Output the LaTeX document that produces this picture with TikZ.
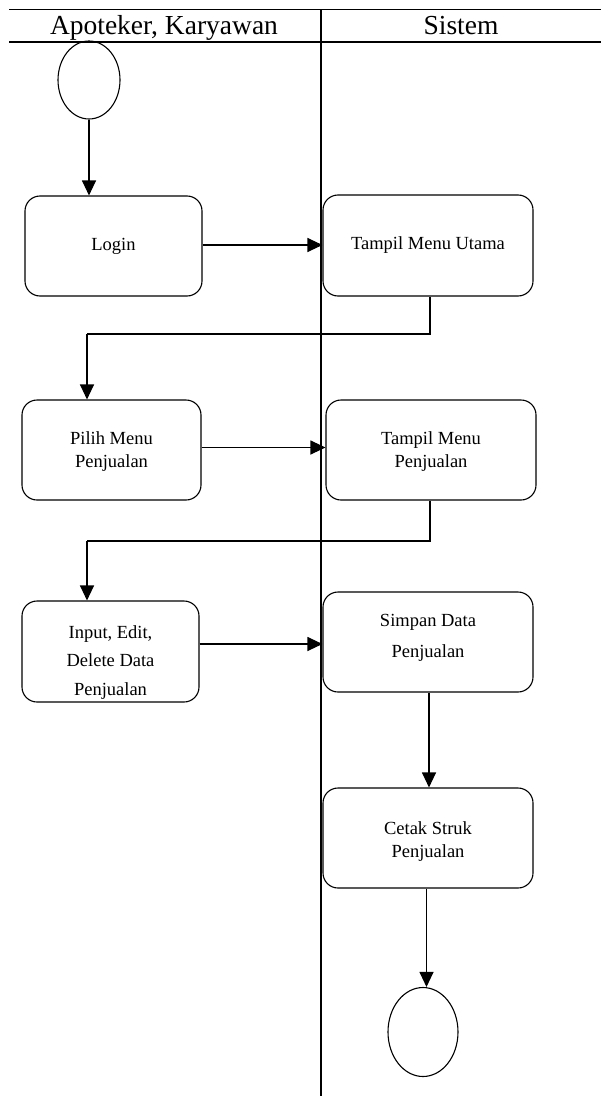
\documentclass[tikz,border=0pt]{standalone}
\usepackage{fontspec}
\setmainfont{Liberation Serif}
\usetikzlibrary{arrows.meta,shapes.geometric}
\begin{document}
\begin{tikzpicture}[x=1pt,y=-1pt,
  line width=1.1pt,
  act/.style={draw,rectangle,rounded corners=15pt,inner sep=0pt},
  txt/.style={font=\fontsize{18.5}{23}\selectfont,align=center,inner sep=0pt},
  lane/.style={font=\fontsize{27.5}{30}\selectfont,inner sep=0pt},
  term/.style={draw,ellipse,inner sep=0pt},
  arr/.style={-{Triangle[length=15pt,width=14pt]}},
  link/.style={line width=1.1pt}]
\useasboundingbox (0,0) rectangle (601,1097);

% swimlane frame
\draw[line width=1.3pt] (9,9.5) -- (601,9.5);
\draw[line width=1.3pt] (9,42) -- (601,42);
\draw[line width=1.1pt] (321,9.5) -- (321,1096);
\node[lane,anchor=base] (laneA) at (164,34.5) {Apoteker, Karyawan};
\node[lane,anchor=base] (laneB) at (461,34.5) {Sistem};

% start / end
\node[term,minimum width=62pt,minimum height=78pt] (start) at (89,80) {};
\node[term,minimum width=70pt,minimum height=89pt] (stop) at (423,1032) {};

% activities
\node[act,minimum width=177pt,minimum height=100pt] (login) at (113.5,246) {};
\node[txt] at (login.center) {Login};
\node[act,minimum width=210pt,minimum height=101pt] (tmu) at (428,245.5) {};
\node[txt] at (tmu.center) {Tampil Menu Utama};
\node[act,minimum width=179pt,minimum height=100pt] (pilih) at (111.5,450) {};
\node[txt,yshift=-2pt] at (pilih.center) {Pilih Menu\\Penjualan};
\node[act,minimum width=210pt,minimum height=100pt] (tmp) at (431,450) {};
\node[txt,yshift=-2pt] at (tmp.center) {Tampil Menu\\Penjualan};
\node[act,minimum width=177pt,minimum height=101pt] (input) at (110.5,651.5) {};
\node[txt,font=\fontsize{18.5}{28.5}\selectfont,yshift=-11pt] at (input.center)
  {Input, Edit,\\Delete Data\\Penjualan};
\node[act,minimum width=210pt,minimum height=100pt] (simpan) at (428,642) {};
\node[txt,font=\fontsize{18.5}{31}\selectfont,yshift=4pt] at (simpan.center)
  {Simpan Data\\Penjualan};
\node[act,minimum width=210pt,minimum height=100pt] (cetak) at (428,838) {};
\node[txt,yshift=-4pt] at (cetak.center) {Cetak Struk\\Penjualan};

% turn points of the return flows
\coordinate (r1) at (430,334);
\coordinate (r2) at (430,541);

% flows
\draw[arr] (start.south) -- (start.south |- login.north);
\draw[arr] (login.east |- 0,245) -- (tmu.west |- 0,245);
\draw[link] (r1 |- tmu.south) -- (r1) -- (r1 -| 87,0);
\draw[arr] (87,334) -- (87,0 |- pilih.north);
\draw[arr] (pilih.east |- 0,447.5) -- (tmp.west |- 0,447.5);
\draw[link] (r2 |- tmp.south) -- (r2) -- (r2 -| 87,0);
\draw[arr] (87,541) -- (87,0 |- input.north);
\draw[arr] (input.east |- 0,644) -- (simpan.west |- 0,644);
\draw[arr] (429,0 |- simpan.south) -- (429,0 |- cetak.north);
\draw[arr] (426.5,0 |- cetak.south) -- (426.5,0 |- stop.north);
\end{tikzpicture}
\end{document}
